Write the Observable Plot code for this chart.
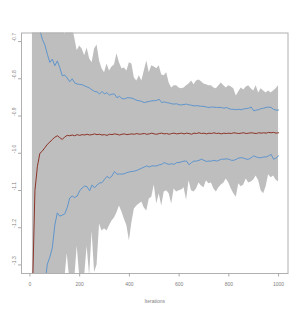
<!DOCTYPE html>
<html>
<head>
<meta charset="utf-8">
<script src="https://cdn.jsdelivr.net/npm/d3@7"></script>
<script src="https://cdn.jsdelivr.net/npm/@observablehq/plot@0.6"></script>
<style>
  html, body { margin: 0; padding: 0; background: #fff; }
</style>
</head>
<body>
<div id="chart"></div>
<script>
const iterations = [10,20,30,40,50,60,70,80,90,100,110,120,130,140,150,160,170,180,190,200,
  210,220,230,240,250,260,270,280,290,300,310,320,330,340,350,360,370,380,390,400,
  410,420,430,440,450,460,470,480,490,500,510,520,530,540,550,560,570,580,590,600,
  610,620,630,640,650,660,670,680,690,700,710,720,730,740,750,760,770,780,790,800,
  810,820,830,840,850,860,870,880,890,900,910,920,930,940,950,960,970,980,990,1000];

const upperBand = [-0.45,-0.5,-0.52,-0.55,-0.56,-0.58,-0.6,-0.6,-0.62,-0.62,-0.63,-0.64,-0.65,
  -0.682,-0.66,-0.65,-0.66,-0.69,-0.725,-0.712,-0.72,-0.738,-0.717,-0.746,-0.757,-0.72,-0.709,-0.752,
  -0.773,-0.784,-0.76,-0.779,-0.768,-0.763,-0.733,-0.757,-0.773,-0.771,-0.779,-0.757,
  -0.76,-0.798,-0.806,-0.792,-0.806,-0.779,-0.752,-0.784,-0.765,-0.768,
  -0.773,-0.765,-0.79,-0.792,-0.784,-0.811,-0.825,-0.819,-0.819,-0.825,
  -0.827,-0.825,-0.819,-0.814,-0.806,-0.816,-0.806,-0.803,-0.808,-0.814,
  -0.816,-0.819,-0.819,-0.825,-0.827,-0.819,-0.811,-0.819,-0.825,-0.819,
  -0.822,-0.827,-0.846,-0.835,-0.825,-0.83,-0.822,-0.819,-0.827,-0.833,
  -0.819,-0.838,-0.827,-0.833,-0.838,-0.833,-0.838,-0.833,-0.827,-0.819];

const lowerBand = [-1.6,-1.55,-1.5,-1.48,-1.45,-1.43,-1.42,-1.4,-1.39,-1.38,-1.37,-1.36,-1.35,-1.34,
  -1.27,-1.34,-1.35,-1.34,-1.25,-1.33,-1.34,-1.33,-1.25,-1.33,-1.21,-1.32,-1.3,-1.19,
  -1.209,-1.203,-1.209,-1.195,-1.182,-1.174,-1.16,-1.142,-1.158,-1.177,-1.195,-1.236,
  -1.187,-1.15,-1.142,-1.136,-1.131,-1.147,-1.155,-1.123,-1.118,-1.085,
  -1.136,-1.109,-1.142,-1.104,-1.101,-1.109,-1.136,-1.096,-1.104,-1.101,
  -1.099,-1.093,-1.126,-1.074,-1.101,-1.104,-1.096,-1.08,-1.088,-1.093,
  -1.074,-1.082,-1.08,-1.096,-1.104,-1.093,-1.085,-1.08,-1.069,-1.08,
  -1.096,-1.109,-1.118,-1.082,-1.09,-1.085,-1.069,-1.08,-1.077,-1.072,
  -1.061,-1.074,-1.101,-1.109,-1.09,-1.058,-1.066,-1.061,-1.072,-1.077];

const upperQ = [-0.3,-0.5,-0.62,-0.67,
  -0.694,-0.709,-0.734,-0.756,-0.747,-0.765,-0.752,-0.77,-0.792,-0.79,-0.798,-0.808,-0.8,-0.811,
  -0.814,-0.815,-0.816,-0.819,-0.822,-0.825,-0.83,-0.834,-0.835,-0.841,
  -0.834,-0.841,-0.837,-0.844,-0.841,-0.841,-0.851,-0.847,-0.853,-0.854,-0.851,-0.851,
  -0.852,-0.855,-0.858,-0.859,-0.861,-0.864,-0.862,-0.861,-0.859,-0.859,
  -0.858,-0.855,-0.864,-0.862,-0.864,-0.865,-0.867,-0.868,-0.867,-0.87,
  -0.87,-0.869,-0.868,-0.87,-0.871,-0.873,-0.872,-0.873,-0.874,-0.874,
  -0.876,-0.877,-0.876,-0.876,-0.877,-0.877,-0.877,-0.879,-0.877,-0.88,
  -0.882,-0.882,-0.883,-0.882,-0.883,-0.881,-0.88,-0.879,-0.876,-0.886,
  -0.884,-0.883,-0.88,-0.879,-0.877,-0.876,-0.877,-0.882,-0.884,-0.884];

const lowerQ = [-1.9,-1.7,-1.6,-1.5,-1.42,-1.35,
  -1.298,-1.279,-1.254,-1.193,-1.16,-1.169,-1.166,-1.163,-1.146,-1.12,-1.115,-1.119,-1.115,-1.101,
  -1.093,-1.088,-1.09,-1.101,-1.085,-1.093,-1.085,-1.08,
  -1.079,-1.07,-1.062,-1.067,-1.061,-1.049,-1.056,-1.056,-1.056,-1.055,-1.052,-1.05,
  -1.049,-1.048,-1.046,-1.043,-1.04,-1.037,-1.034,-1.037,-1.034,-1.034,
  -1.034,-1.031,-1.03,-1.025,-1.028,-1.03,-1.028,-1.03,-1.025,-1.025,
  -1.023,-1.021,-1.021,-1.031,-1.025,-1.021,-1.021,-1.019,-1.016,-1.019,
  -1.022,-1.021,-1.021,-1.019,-1.021,-1.019,-1.016,-1.016,-1.015,-1.016,
  -1.019,-1.019,-1.016,-1.013,-1.012,-1.013,-1.016,-1.016,-1.012,-1.007,
  -1.01,-1.012,-1.012,-1.01,-1.01,-1.007,-1.003,-1.016,-1.013,-1.007];

const meanLine = [-1.375,-1.1,-1.035,-1.0,-0.994,-0.985,-0.976,-0.97,-0.963,-0.957,-0.953,-0.958,-0.963,-0.956,-0.952,-0.953,
  -0.951,-0.953,-0.95,-0.952,-0.95,-0.951,-0.949,-0.951,-0.95,-0.948,-0.95,-0.949,-0.951,-0.95,-0.952,-0.949,
  -0.95,-0.948,-0.949,-0.951,-0.949,-0.948,-0.95,-0.949,
  -0.948,-0.949,-0.947,-0.949,-0.948,-0.947,-0.949,-0.948,-0.946,-0.948,
  -0.949,-0.947,-0.946,-0.948,-0.947,-0.949,-0.947,-0.946,-0.948,-0.947,
  -0.946,-0.948,-0.946,-0.947,-0.949,-0.946,-0.947,-0.945,-0.947,-0.946,
  -0.948,-0.946,-0.947,-0.945,-0.947,-0.946,-0.948,-0.946,-0.947,-0.946,
  -0.947,-0.945,-0.946,-0.947,-0.946,-0.945,-0.947,-0.946,-0.945,-0.946,
  -0.947,-0.945,-0.946,-0.945,-0.946,-0.944,-0.945,-0.944,-0.946,-0.945];

const xTicks = [0, 200, 400, 600, 800, 1000];
const xTickLabels = ["0", "200", "400", "600", "800", "1000"];
const yTicks = [-1.3, -1.2, -1.1, -1.0, -0.9, -0.8, -0.7];
const yTickLabels = ["-1.3", "-1.2", "-1.1", "-1.0", "-0.9", "-0.8", "-0.7"];
const xTitle = "Iterations";

const rows = iterations.map((it, i) => ({
  it, lo: lowerBand[i], hi: upperBand[i], q1: lowerQ[i], q3: upperQ[i], m: meanLine[i]
}));
const yLabelRows = yTicks.map((v, i) => ({ v, label: yTickLabels[i] }));

const chart = Plot.plot({
  width: 299,
  height: 314,
  marginLeft: 21,
  marginRight: 11.5,
  marginTop: 32.5,
  marginBottom: 41,
  x: { domain: [-34, 1038] },
  y: { domain: [-1.323, -0.677] },
  style: { fontFamily: "'Liberation Sans', Arial, sans-serif", fontSize: "5px", color: "#808080", background: "#fff" },
  marks: [
    Plot.areaY(rows, { x: "it", y1: "lo", y2: "hi", fill: "#bebebe", clip: true }),
    Plot.lineY(rows, { x: "it", y: "q3", stroke: "#5f95cc", strokeWidth: 1, clip: true }),
    Plot.lineY(rows, { x: "it", y: "q1", stroke: "#5f95cc", strokeWidth: 1, clip: true }),
    Plot.lineY(rows, { x: "it", y: "m", stroke: "#8b3328", strokeWidth: 1, clip: true }),
    Plot.frame({ stroke: "#b0b0b0" }),
    Plot.axisX({ ticks: xTicks, tickFormat: (d, i) => xTickLabels[i], tickSize: 3.5, tickPadding: 5, stroke: "#aaa", fill: "#808080", label: null }),
    Plot.axisY({ ticks: yTicks, tickFormat: () => "", tickSize: 3, stroke: "#aaa", label: null }),
    Plot.text(yLabelRows, { y: "v", text: "label", frameAnchor: "left", dx: -7, rotate: -90, fill: "#808080" }),
    Plot.text([xTitle], { frameAnchor: "bottom", dy: 29, fill: "#808080" })
  ]
});
document.getElementById("chart").appendChild(chart);
</script>
</body>
</html>
